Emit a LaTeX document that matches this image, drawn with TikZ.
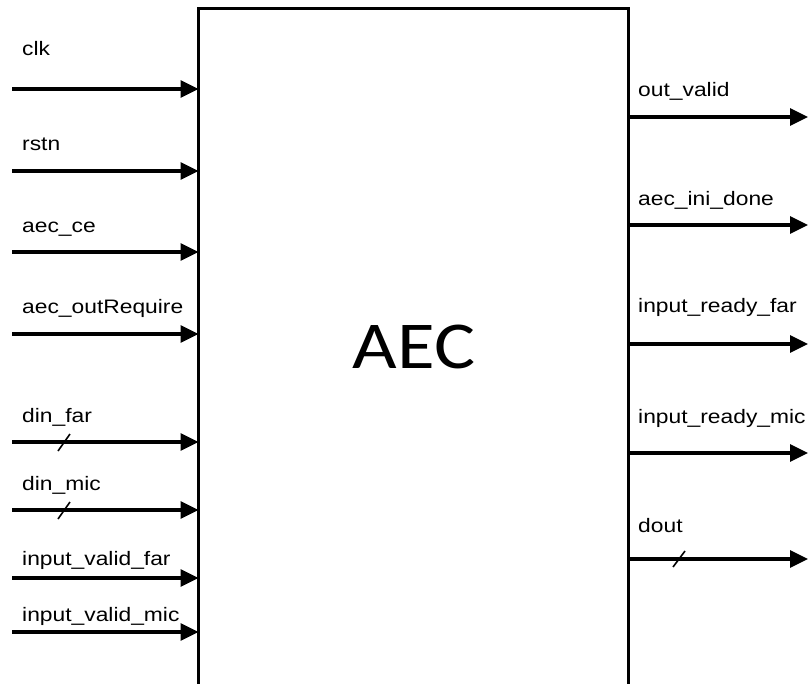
\documentclass[tikz,border=0pt]{standalone}
\usepackage{fontspec}
\usepackage{graphicx}
\usetikzlibrary{arrows.meta}
\newfontfamily\labfont{Liberation Sans}
\newfontfamily\titlefont{Carlito}
\newcommand{\sx}[1]{\scalebox{1.17}[1]{#1}}
\tikzset{
  sig/.style={line width=3.2pt, -{Triangle[length=18pt,width=17pt]}},
  lbl/.style={anchor=base west, inner sep=0pt, font=\fontsize{19.5}{22}\labfont},
  bus/.style={line width=1.6pt},
}
\begin{document}
\begin{tikzpicture}[x=1pt,y=-1pt]
\useasboundingbox (0,0) rectangle (808,684);
\clip (0,0) rectangle (808,684);
\fill[white] (0,0) rectangle (808,684);
\node[draw, line width=3pt, inner sep=0pt, outer sep=0pt, anchor=north west,
      minimum width=430pt, minimum height=740pt] (box) at (198.5,8.5) {};
\node[inner sep=0pt, anchor=base, font=\fontsize{67}{70}\titlefont] (title) at (414,368) {\scalebox{1.15}[1]{AEC}};
% inputs
\foreach \n/\y/\t/\by in {clk/89/clk/56, rstn/171/rstn/151, ce/252/aec\_ce/233, req/334/aec\_outRequire/314,
  dfar/442/din\_far/422, dmic/510/din\_mic/490, vfar/578/input\_valid\_far/565, vmic/632/input\_valid\_mic/621}{
  \coordinate (i\n) at (12,\y);
  \draw[sig] (i\n) -- (i\n -| box.west);
  \node[lbl] (l\n) at (22,\by) {\sx{\t}};
}
% outputs
\foreach \n/\y/\t/\by in {ov/117/out\_valid/97, ini/225/aec\_ini\_done/206, rfar/344/input\_ready\_far/313,
  rmic/453/input\_ready\_mic/423, dout/559/dout/532}{
  \coordinate (o\n) at (808,\y);
  \draw[sig] (o\n -| box.east) -- (o\n);
  \node[lbl] (m\n) at (638,\by) {\sx{\t}};
}
% bus slashes
\draw[bus] (58,451) -- (70,434);
\draw[bus] (58,519) -- (70,502);
\draw[bus] (673,567) -- (685,551);
\end{tikzpicture}
\end{document}
